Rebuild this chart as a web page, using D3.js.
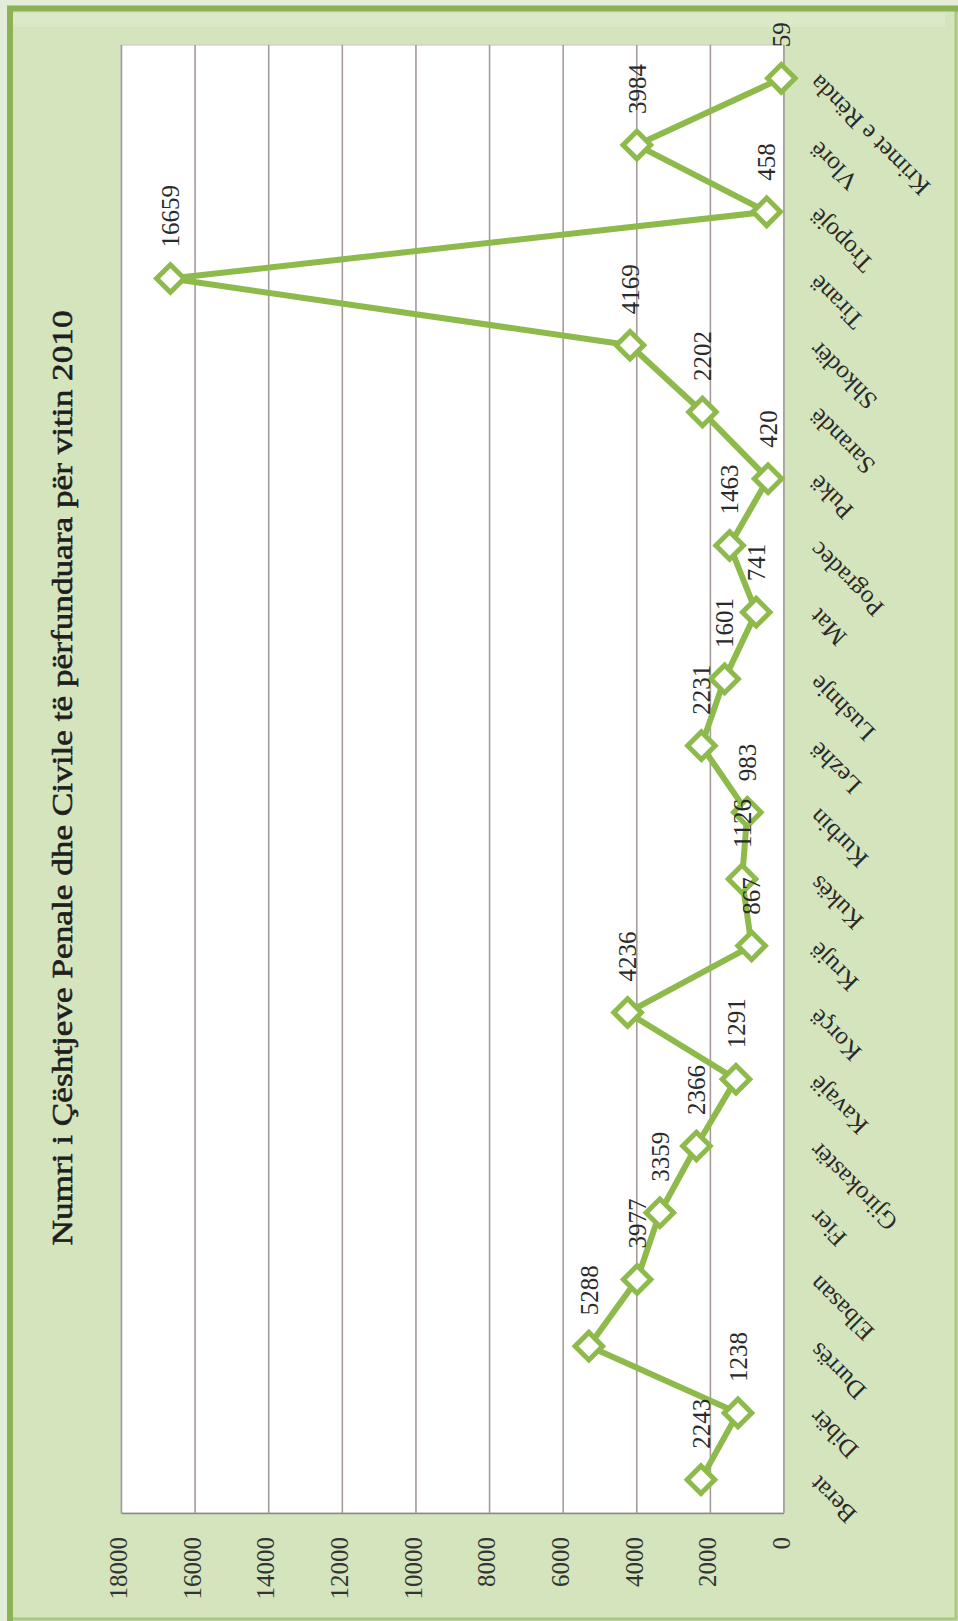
<!DOCTYPE html>
<html>
<head>
<meta charset="utf-8">
<script src="https://cdn.jsdelivr.net/npm/d3@7"></script>
<style>
  html, body { margin: 0; padding: 0; background: #d4e4bd; }
  svg { display: block; }
</style>
</head>
<body>
<svg id="chart" width="958" height="1621"></svg>
<script>
// ---- data ----
const title = "Numri i Çështjeve Penale dhe Civile të përfunduara për vitin 2010";
const categories = ["Berat","Dibër","Durrës","Elbasan","Fier","Gjirokastër","Kavajë","Korçë","Krujë","Kukës","Kurbin","Lezhë","Lushnje","Mat","Pogradec","Pukë","Sarandë","Shkodër","Tiranë","Tropojë","Vlorë","Krimet e Rënda"];
const values = [2243,1238,5288,3977,3359,2366,1291,4236,867,1126,983,2231,1601,741,1463,420,2202,4169,16659,458,3984,59];
const tickValues = [0,2000,4000,6000,8000,10000,12000,14000,16000,18000];

// ---- layout ----
const W = 958, H = 1621;
const plot = { left: 121, right: 783.5, top: 45, bottom: 1513 };
const green = "#8dba4b";
const serif = "'Liberation Serif', 'DejaVu Serif', serif";

const svg = d3.select("#chart");

// background + frame
svg.append("rect").attr("x", 0).attr("y", 0).attr("width", W).attr("height", H).attr("fill", "#e3ecd6");
svg.append("rect").attr("x", 8).attr("y", 6).attr("width", W - 8).attr("height", H - 6).attr("fill", "#d4e4bd");
svg.append("rect").attr("x", 13).attr("y", 13).attr("width", W - 26).attr("height", 14).attr("fill", "#dbe9c8");
svg.append("rect").attr("x", 10).attr("y", 8).attr("width", W - 12).attr("height", H - 10)
  .attr("fill", "none").attr("stroke", "#a9c97c").attr("stroke-width", 3);
svg.append("path").attr("d", `M10,${H} L10,8.5 L${W},8.5`)
  .attr("fill", "none").attr("stroke", "#8db255").attr("stroke-width", 6);

// scales
const x = d3.scaleLinear().domain([0, 18000]).range([plot.right, plot.left]);
const y = d3.scaleBand().domain(categories).range([plot.bottom, plot.top]);
const yc = c => y(c) + y.bandwidth() / 2;

// plot area
svg.append("rect").attr("x", plot.left).attr("y", plot.top)
  .attr("width", plot.right - plot.left).attr("height", plot.bottom - plot.top)
  .attr("fill", "#ffffff").attr("stroke", "#c9c4c4").attr("stroke-width", 1);

// value axis with gridlines
const axis = svg.append("g")
  .attr("transform", `translate(0,${plot.bottom})`)
  .call(d3.axisBottom(x).tickValues(tickValues).tickSize(-(plot.bottom - plot.top)).tickSizeOuter(0).tickFormat(d3.format("d")));
axis.select(".domain").attr("stroke", "#8f8a8a").attr("stroke-width", 1.5);
axis.selectAll(".tick line").attr("stroke", "#a59b99").attr("stroke-width", 1.6);
axis.selectAll(".tick text")
  .attr("transform", "rotate(-90)")
  .attr("x", -24).attr("y", -3).attr("dy", "0.35em")
  .attr("text-anchor", "end")
  .attr("font-family", serif).attr("font-size", 25).attr("fill", "#333333");

// category labels
svg.append("g").selectAll("text").data(categories).join("text")
  .attr("transform", c => `translate(${plot.right + 36},${yc(c) - 5}) rotate(-135)`)
  .attr("text-anchor", "end")
  .attr("font-family", serif).attr("font-size", 25).attr("fill", "#2a2a2a")
  .text(c => c);

// title
svg.append("text")
  .attr("transform", `translate(72,778) rotate(-90)`)
  .attr("text-anchor", "middle")
  .attr("font-family", serif).attr("font-size", 29).attr("fill", "#1e1e1e")
  .attr("stroke", "#1e1e1e").attr("stroke-width", 0.6)
  .attr("textLength", 935).attr("lengthAdjust", "spacingAndGlyphs")
  .text(title);

// series
const data = categories.map((c, i) => ({ c, v: values[i] }));
const line = d3.line().x(d => x(d.v)).y(d => yc(d.c));
svg.append("path").datum(data)
  .attr("d", line).attr("fill", "none")
  .attr("stroke", green).attr("stroke-width", 6).attr("stroke-linejoin", "round");

const sym = d3.symbol().type(d3.symbolSquare).size(380);
svg.append("g").selectAll("path").data(data).join("path")
  .attr("transform", d => `translate(${x(d.v)},${yc(d.c)}) rotate(45)`)
  .attr("d", sym)
  .attr("fill", "#ffffff").attr("stroke", green).attr("stroke-width", 5);

// data labels
svg.append("g").selectAll("text").data(data).join("text")
  .attr("transform", d => `translate(${x(d.v)},${yc(d.c) - 31}) rotate(-90)`)
  .attr("dy", "0.35em")
  .attr("text-anchor", "start")
  .attr("font-family", serif).attr("font-size", 25).attr("fill", "#2a2a2a")
  .text(d => d.v);
</script>
</body>
</html>
